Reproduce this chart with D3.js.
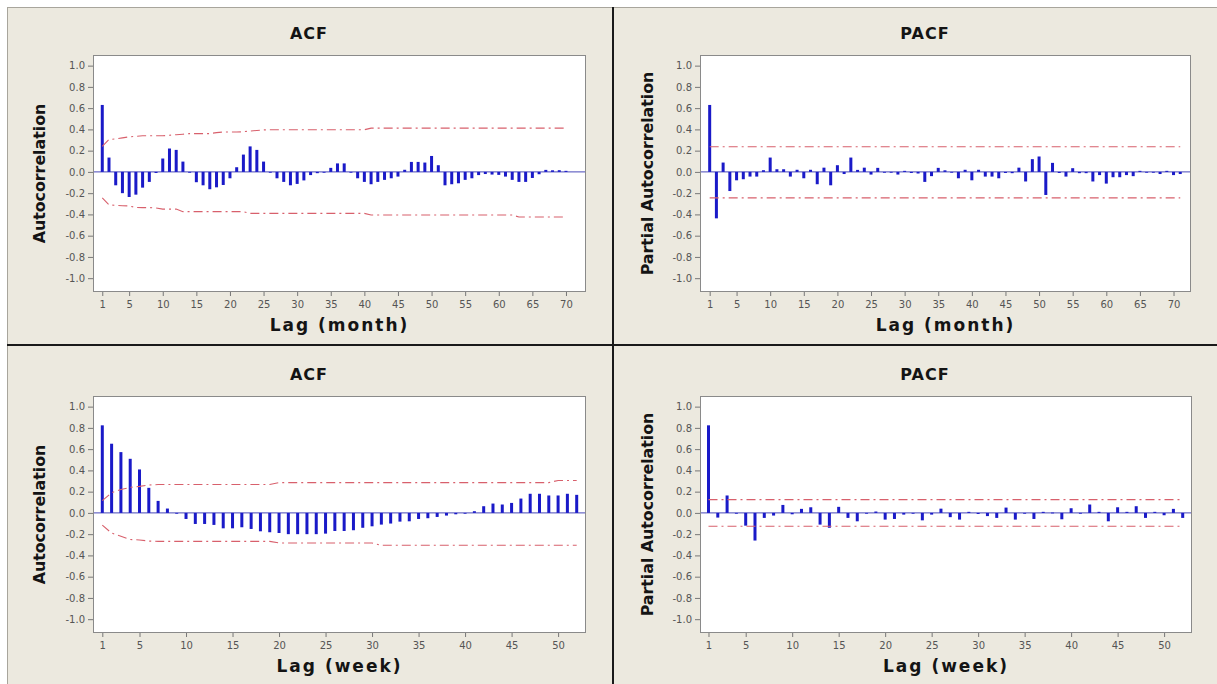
<!DOCTYPE html>
<html><head><meta charset="utf-8">
<script src="https://cdn.jsdelivr.net/npm/d3@7"></script>
<style>body{margin:0;background:#fff;} svg{display:block;font-family:"DejaVu Sans",sans-serif;}</style>
</head><body><svg id="c" width="1217" height="684"></svg>
<script>
// ---------- data ----------
const yTicks = [-1.0,-0.8,-0.6,-0.4,-0.2,0.0,0.2,0.4,0.6,0.8,1.0];
const monthTicks = [1,5,10,15,20,25,30,35,40,45,50,55,60,65,70];
const weekTicks = [1,5,10,15,20,25,30,35,40,45,50];

const acfMonth = [0.63,0.135,-0.126,-0.20,-0.236,-0.214,-0.148,-0.094,-0.01,0.126,
  0.22,0.207,0.097,-0.005,-0.097,-0.126,-0.163,-0.145,-0.123,-0.06,
  0.044,0.163,0.24,0.207,0.097,0.0,-0.06,-0.094,-0.126,-0.113,
  -0.08,-0.03,-0.012,0.0,0.038,0.08,0.08,0.0,-0.06,-0.094,
  -0.116,-0.094,-0.075,-0.06,-0.044,0.02,0.094,0.094,0.088,0.15,
  0.063,-0.126,-0.116,-0.107,-0.075,-0.06,-0.03,-0.02,-0.025,-0.028,
  -0.044,-0.075,-0.094,-0.094,-0.057,-0.022,0.019,0.015,0.016,0.01];
const acfMonthUpper = [0.24,0.305,0.31,0.32,0.33,0.335,0.34,0.34,0.34,0.34,
  0.345,0.35,0.355,0.36,0.36,0.36,0.36,0.37,0.375,0.375,
  0.375,0.378,0.385,0.39,0.395,0.397,0.397,0.397,0.397,0.397,
  0.397,0.397,0.397,0.397,0.397,0.397,0.397,0.397,0.397,0.397,
  0.412,0.412,0.412,0.412,0.412,0.412,0.412,0.412,0.412,0.412,
  0.412,0.412,0.412,0.412,0.412,0.412,0.412,0.412,0.412,0.412,
  0.412,0.412,0.412,0.412,0.412,0.412,0.412,0.412,0.412,0.412];
const acfMonthLower = [-0.245,-0.31,-0.315,-0.318,-0.32,-0.335,-0.336,-0.336,-0.34,-0.35,
  -0.35,-0.35,-0.374,-0.374,-0.374,-0.374,-0.374,-0.374,-0.374,-0.374,
  -0.374,-0.374,-0.39,-0.39,-0.39,-0.39,-0.39,-0.39,-0.39,-0.39,
  -0.39,-0.39,-0.39,-0.39,-0.39,-0.39,-0.39,-0.39,-0.39,-0.39,
  -0.405,-0.405,-0.405,-0.405,-0.405,-0.405,-0.405,-0.405,-0.405,-0.405,
  -0.405,-0.405,-0.405,-0.405,-0.405,-0.405,-0.405,-0.405,-0.405,-0.405,
  -0.405,-0.405,-0.425,-0.425,-0.425,-0.425,-0.425,-0.425,-0.425,-0.425];

const pacfMonth = [0.63,-0.437,0.088,-0.18,-0.079,-0.069,-0.044,-0.044,0.016,0.135,
  0.025,0.025,-0.044,0.02,-0.06,0.02,-0.116,0.04,-0.126,0.063,
  -0.02,0.135,0.019,0.04,-0.025,0.038,0.0,0.0,-0.025,0.01,
  -0.01,-0.015,-0.094,-0.04,0.038,0.015,0.0,-0.06,0.02,-0.079,
  0.02,-0.044,-0.044,-0.06,-0.01,-0.012,0.04,-0.09,0.12,0.145,
  -0.217,0.085,-0.01,-0.044,0.035,-0.012,-0.012,-0.09,-0.03,-0.11,
  -0.05,-0.05,-0.03,-0.04,0.01,0.0,0.0,-0.02,0.01,-0.03,-0.02];
const pacfMonthUpper = 0.236;
const pacfMonthLower = -0.244;

const acfWeek = [0.824,0.651,0.572,0.509,0.409,0.236,0.113,0.041,-0.005,-0.057,
  -0.104,-0.104,-0.113,-0.145,-0.145,-0.135,-0.151,-0.173,-0.182,-0.189,
  -0.20,-0.20,-0.20,-0.20,-0.195,-0.17,-0.17,-0.163,-0.14,-0.126,
  -0.11,-0.10,-0.082,-0.079,-0.057,-0.05,-0.038,-0.025,-0.013,-0.006,
  0.016,0.063,0.088,0.079,0.094,0.135,0.18,0.18,0.164,0.164,0.18,0.17];
const acfWeekUpper = [0.115,0.19,0.22,0.24,0.25,0.262,0.267,0.267,0.267,0.267,
  0.267,0.267,0.267,0.267,0.267,0.267,0.267,0.267,0.267,0.285,
  0.285,0.285,0.285,0.285,0.285,0.285,0.285,0.285,0.285,0.285,
  0.285,0.285,0.285,0.285,0.285,0.285,0.285,0.285,0.285,0.285,
  0.285,0.285,0.285,0.285,0.285,0.285,0.285,0.285,0.285,0.305,0.305,0.305];
const acfWeekLower = [-0.115,-0.19,-0.22,-0.25,-0.255,-0.265,-0.268,-0.268,-0.268,-0.268,
  -0.268,-0.268,-0.268,-0.268,-0.268,-0.268,-0.268,-0.268,-0.268,-0.283,
  -0.283,-0.283,-0.283,-0.283,-0.283,-0.283,-0.283,-0.283,-0.283,-0.283,
  -0.305,-0.305,-0.305,-0.305,-0.305,-0.305,-0.305,-0.305,-0.305,-0.305,
  -0.305,-0.305,-0.305,-0.305,-0.305,-0.305,-0.305,-0.305,-0.305,-0.305,-0.305,-0.305];

const pacfWeek = [0.824,-0.044,0.164,0.0,-0.12,-0.26,-0.047,-0.025,0.075,-0.013,
  0.038,0.053,-0.11,-0.14,0.057,-0.047,-0.079,-0.006,0.013,-0.063,
  -0.057,-0.016,-0.006,-0.07,-0.016,0.04,-0.04,-0.063,0.01,-0.01,
  -0.03,-0.047,0.05,-0.063,-0.006,-0.057,0.01,0.003,-0.06,0.044,
  0.0,0.079,0.01,-0.079,0.053,0.01,0.063,-0.047,0.01,-0.022,0.038,-0.047];
const pacfWeekUpper = 0.125;
const pacfWeekLower = -0.125;

// ---------- drawing ----------
const svg = d3.select("#c");
const BG = "#ece9df";
svg.append("rect").attr("x",7).attr("y",7).attr("width",1210).attr("height",677).attr("fill",BG);
svg.append("line").attr("x1",7).attr("x2",1217).attr("y1",7.5).attr("y2",7.5).attr("stroke","#a8a59c");
svg.append("line").attr("x1",7.5).attr("x2",7.5).attr("y1",7).attr("y2",684).attr("stroke","#a8a59c");
svg.append("line").attr("x1",613).attr("x2",613).attr("y1",7).attr("y2",684).attr("stroke","#1a1a1a").attr("stroke-width",2);
svg.append("line").attr("x1",7).attr("x2",1217).attr("y1",345).attr("y2",345).attr("stroke","#1a1a1a").attr("stroke-width",2);

const fmt = d => d.toFixed(1);

function panel(c) {
  const g = svg.append("g");
  const xs = d3.scaleLinear().domain(c.xDomain).range([c.x0, c.x1]);
  const ys = d3.scaleLinear().domain([-1.13, 1.10]).range([c.y1, c.y0]);
  g.append("rect").attr("x",c.x0).attr("y",c.y0).attr("width",c.x1-c.x0).attr("height",c.y1-c.y0)
    .attr("fill","#fff");

  const lags = c.values.map((v,i)=>i+1);
  // zero line
  g.append("line").attr("x1",c.x0).attr("x2",c.x1).attr("y1",ys(0)).attr("y2",ys(0))
    .attr("stroke","#4848b8").attr("stroke-width",1);
  // bars
  g.selectAll("rect.bar").data(c.values).join("rect").attr("class","bar")
    .attr("x",(d,i)=>xs(i+1)-1.5).attr("width",3)
    .attr("y",d=>Math.min(ys(d),ys(0))).attr("height",d=>Math.max(0.8,Math.abs(ys(d)-ys(0))))
    .attr("fill","#1a1ac8");
  // limit lines
  const upper = Array.isArray(c.upper) ? c.upper : lags.map(()=>c.upper);
  const lower = Array.isArray(c.lower) ? c.lower : lags.map(()=>c.lower);
  const line = d3.line().x((d,i)=>xs(i+1)).y(d=>ys(d));
  [upper, lower].forEach(arr=>{
    g.append("path").attr("d",line(arr)).attr("fill","none")
      .attr("stroke","#d8606c").attr("stroke-width",1.1).attr("stroke-dasharray","9,4,2,4");
  });
  // frame
  g.append("rect").attr("x",c.x0+0.5).attr("y",c.y0+0.5).attr("width",c.x1-c.x0-1).attr("height",c.y1-c.y0-1)
    .attr("fill","none").attr("stroke","#8a8a8a");
  // axes
  const ya = g.append("g").attr("transform",`translate(${c.x0},0)`)
    .call(d3.axisLeft(ys).tickValues(yTicks).tickFormat(fmt).tickSize(5).tickPadding(3));
  const xa = g.append("g").attr("transform",`translate(0,${c.y1})`)
    .call(d3.axisBottom(xs).tickValues(c.xTicks).tickFormat(d=>d).tickSize(4).tickPadding(5));
  [ya,xa].forEach(a=>{
    a.select(".domain").remove();
    a.selectAll("line").attr("stroke","#777");
    a.selectAll("text").attr("fill","#555").style("font-size","10px").style("font-family","DejaVu Sans");
  });
  // titles
  g.append("text").attr("x",c.titleX).attr("y",c.y0-16).attr("text-anchor","middle")
    .style("font-weight","bold").style("font-size","16px").style("letter-spacing","1px")
    .attr("fill","#141414").text(c.title);
  g.append("text").attr("x",(c.x0+c.x1)/2).attr("y",c.y1+39).attr("text-anchor","middle")
    .style("font-weight","bold").style("font-size","17px").style("letter-spacing","2px")
    .attr("fill","#141414").text(c.xLabel);
  g.append("text").attr("transform",`translate(${c.yLabelX},${(c.y0+c.y1)/2}) rotate(-90)`)
    .attr("text-anchor","middle").style("font-weight","bold").style("font-size","15.8px")
    .attr("fill","#141414").text(c.yLabel);
}

panel({x0:93,x1:586,y0:55,y1:292,xDomain:[-0.38,72.98],values:acfMonth,upper:acfMonthUpper,lower:acfMonthLower,
  title:"ACF",titleX:309,xLabel:"Lag (month)",yLabel:"Autocorrelation",yLabelX:45,xTicks:monthTicks});
panel({x0:700,x1:1191,y0:55,y1:292,xDomain:[-0.44,72.6],values:pacfMonth,upper:pacfMonthUpper,lower:pacfMonthLower,
  title:"PACF",titleX:925,xLabel:"Lag (month)",yLabel:"Partial Autocorrelation",yLabelX:653,xTicks:monthTicks});
panel({x0:93,x1:586,y0:396,y1:633,xDomain:[0.0,53.0],values:acfWeek,upper:acfWeekUpper,lower:acfWeekLower,
  title:"ACF",titleX:309,xLabel:"Lag (week)",yLabel:"Autocorrelation",yLabelX:45,xTicks:weekTicks});
panel({x0:700,x1:1192,y0:396,y1:633,xDomain:[0.086,53.0],values:pacfWeek,upper:pacfWeekUpper,lower:pacfWeekLower,
  title:"PACF",titleX:925,xLabel:"Lag (week)",yLabel:"Partial Autocorrelation",yLabelX:653,xTicks:weekTicks});
</script></body></html>
